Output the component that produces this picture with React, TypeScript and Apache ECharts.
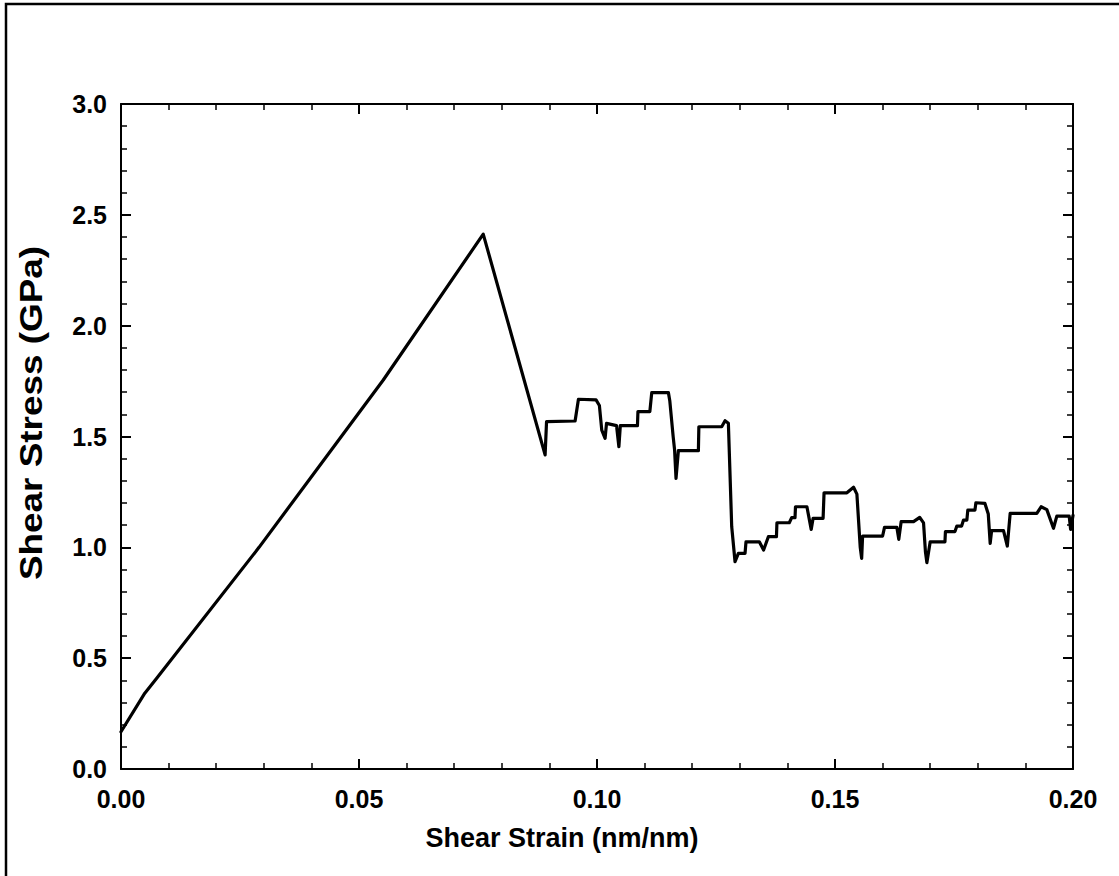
import React, { useEffect, useRef } from "react";
import * as echarts from "echarts";

const xTitle = "Shear Strain (nm/nm)";
const yTitle = "Shear Stress (GPa)";

const strain: number[] = [
  0.0, 0.005, 0.0075, 0.029, 0.0551, 0.0761,
  0.0891, 0.0894, 0.0954, 0.0961, 0.0998, 0.1005, 0.101, 0.1017, 0.102, 0.1041,
  0.1046, 0.1049, 0.1085, 0.1086, 0.1111, 0.1115, 0.115, 0.1153, 0.116, 0.1163,
  0.1166, 0.1171, 0.1213, 0.1214, 0.1262, 0.1269, 0.1276, 0.1283, 0.129, 0.1297,
  0.1311, 0.1313, 0.1341, 0.135, 0.136, 0.1377, 0.1378, 0.1404, 0.1409, 0.1416,
  0.1417, 0.1441, 0.145, 0.1454, 0.1475, 0.1477, 0.1525, 0.1539, 0.1546, 0.1553,
  0.1556, 0.1558, 0.16, 0.1604, 0.163, 0.1634, 0.1639, 0.1665, 0.1678, 0.1686,
  0.169, 0.1693, 0.17, 0.1731, 0.1732, 0.1752, 0.1756, 0.1766, 0.177, 0.1777,
  0.1779, 0.1794, 0.1796, 0.1815, 0.1822, 0.1826, 0.1829, 0.1854, 0.1862, 0.1868,
  0.1924, 0.1933, 0.1945, 0.1959, 0.1966, 0.1992, 0.1995, 0.2,
];

const stress: number[] = [
  0.168, 0.342, 0.409, 1.0, 1.755, 2.413,
  1.417, 1.567, 1.57, 1.668, 1.665, 1.64, 1.529, 1.492, 1.559, 1.549,
  1.454, 1.549, 1.549, 1.612, 1.612, 1.698, 1.698, 1.66, 1.499, 1.44,
  1.311, 1.436, 1.436, 1.544, 1.544, 1.571, 1.56, 1.093, 0.935, 0.973,
  0.973, 1.025, 1.025, 0.988, 1.048, 1.048, 1.111, 1.111, 1.134, 1.134,
  1.183, 1.183, 1.081, 1.131, 1.131, 1.246, 1.246, 1.271, 1.24, 1.0,
  0.95, 1.051, 1.051, 1.09, 1.09, 1.036, 1.116, 1.116, 1.135, 1.11,
  0.98, 0.931, 1.025, 1.025, 1.071, 1.071, 1.096, 1.096, 1.123, 1.123,
  1.168, 1.168, 1.201, 1.198, 1.15, 1.018, 1.075, 1.075, 1.006, 1.153,
  1.153, 1.183, 1.17, 1.086, 1.141, 1.141, 1.081, 1.144,
];

const FONT = "'Liberation Sans', Arial, Helvetica, sans-serif";

export default function App() {
  const ref = useRef<HTMLDivElement>(null);
  useEffect(() => {
    if (!ref.current) return;
    const chart = echarts.init(ref.current, null, { renderer: "svg" });
    const axisLine = { show: true, onZero: false, lineStyle: { color: "#000", width: 2 } };
    const axisTick = { show: true, inside: true, length: 10, lineStyle: { color: "#000", width: 2 } };
    const minorTick = { show: true, splitNumber: 5, length: 6, lineStyle: { color: "#000", width: 1.5 } };
    const labelStyle = { color: "#000", fontFamily: FONT, fontWeight: "bold" as const, fontSize: 25 };
    const data = strain.map((x, i) => [x, stress[i]]);
    chart.setOption({
      animation: false,
      backgroundColor: "#fff",
      grid: { left: 121, right: 46, top: 104, bottom: 107, containLabel: false },
      xAxis: [
        {
          type: "value", min: 0, max: 0.2, interval: 0.05, position: "bottom",
          axisLine, axisTick, minorTick, splitLine: { show: false },
          axisLabel: { ...labelStyle, margin: 17, formatter: (v: number) => v.toFixed(2) },
        },
        {
          type: "value", min: 0, max: 0.2, interval: 0.05, position: "top",
          axisLine, axisTick, minorTick, splitLine: { show: false },
          axisLabel: { show: false },
        },
      ],
      yAxis: [
        {
          type: "value", min: 0, max: 3, interval: 0.5, position: "left",
          axisLine, axisTick, minorTick, splitLine: { show: false },
          axisLabel: { ...labelStyle, margin: 14, formatter: (v: number) => v.toFixed(1) },
        },
        {
          type: "value", min: 0, max: 3, interval: 0.5, position: "right",
          axisLine, axisTick, minorTick, splitLine: { show: false },
          axisLabel: { show: false },
        },
      ],
      series: [
        {
          type: "line",
          xAxisIndex: 0,
          yAxisIndex: 0,
          data,
          showSymbol: false,
          symbol: "none",
          lineStyle: { color: "#000", width: 3.2, join: "round", cap: "round" },
        },
      ],
      graphic: [
        {
          type: "rect",
          shape: { x: 6, y: 4, width: 1300, height: 1100 },
          style: { fill: "none", stroke: "#000", lineWidth: 2.5 },
          silent: true,
        },
        {
          type: "text",
          x: 562,
          y: 838,
          style: {
            text: xTitle, fill: "#000", font: `bold 27px ${FONT}`,
            align: "center", verticalAlign: "middle",
          },
        },
        {
          type: "text",
          x: 31,
          y: 413,
          rotation: Math.PI / 2,
          scaleX: 1.19,
          style: {
            text: yTitle, fill: "#000", font: `bold 31px ${FONT}`,
            align: "center", verticalAlign: "middle",
          },
        },
      ],
    });
    return () => chart.dispose();
  }, []);
  return (
    <div
      ref={ref}
      style={{ position: "fixed", left: 0, top: 0, width: 1119, height: 876, background: "#fff" }}
    />
  );
}
